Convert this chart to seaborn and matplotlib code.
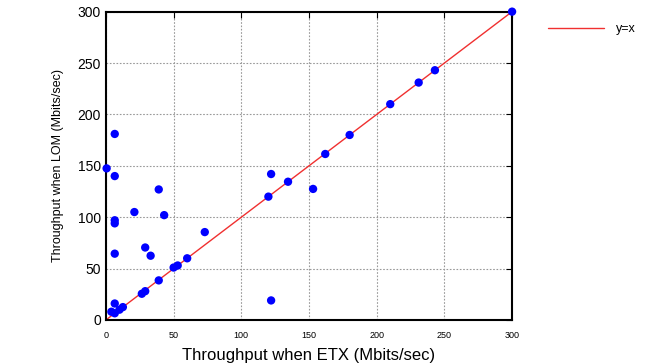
import numpy as np
import pandas as pd
import matplotlib
matplotlib.use("Agg")
import matplotlib.pyplot as plt
import seaborn as sns

# ---------------- data ----------------
etx = [300, 243, 231, 210, 180, 162, 134.5, 122, 120, 153, 122,
       6.5, 0.5, 6.5, 39, 21, 43, 6.5, 6.5, 73, 29, 33, 6.5, 60,
       50, 53, 39, 29, 26.5, 6.5, 12.5, 6.5, 10, 4]
lom = [300, 243, 231, 210, 180, 161.5, 134.5, 142, 120, 127.5, 19,
       181, 147.5, 140, 127, 105, 102, 97, 94, 85.5, 70.5, 62.5, 64.5, 60,
       51, 53, 38.5, 28, 25.5, 16, 12.5, 6.5, 10, 8]
diag = [0, 300]

df = pd.DataFrame({"etx": etx, "lom": lom})
line_df = pd.DataFrame({"x": diag, "y": diag})

# ---------------- plot ----------------
sns.set_style("white")
plt.rcParams['font.family'] = ['Liberation Sans', 'DejaVu Sans']
plt.rcParams['text.color'] = 'black'
plt.rcParams['xtick.color'] = 'black'
plt.rcParams['ytick.color'] = 'black'
plt.rcParams['axes.labelcolor'] = 'black'

fig = plt.figure(figsize=(6.54, 3.64), dpi=100)
ax = fig.add_axes([0.162, 0.121, 0.621, 0.847])

sns.lineplot(data=line_df, x="x", y="y", color="#f03030", lw=1.0,
             label="y=x", ax=ax, zorder=2)
sns.scatterplot(data=df, x="etx", y="lom", color="#0000ff", s=36,
                edgecolor="none", ax=ax, zorder=3, clip_on=False)

ax.set_xlim(0, 300)
ax.set_ylim(0, 300)
ax.set_xticks(range(0, 301, 50))
ax.set_yticks(range(0, 301, 50))
ax.grid(True, color="#999999", linestyle=(0, (1.5, 1.5)), lw=0.8)
for sp in ax.spines.values():
    sp.set_color("black")
    sp.set_linewidth(1.5)
ax.tick_params(axis="x", labelsize=6.5, direction="in", length=4, top=True, pad=8)
ax.tick_params(axis="y", labelsize=10, direction="in", length=4, right=True)

ax.set_xlabel("Throughput when ETX (Mbits/sec)", fontsize=12, labelpad=6)
ax.set_ylabel("Throughput when LOM (Mbits/sec)", fontsize=9, labelpad=10)

ax.legend(loc="upper left", bbox_to_anchor=(1.06, 1.0), frameon=False,
          fontsize=9, handlelength=4.5, handletextpad=1.0)

fig.savefig("out.png", dpi=100)
